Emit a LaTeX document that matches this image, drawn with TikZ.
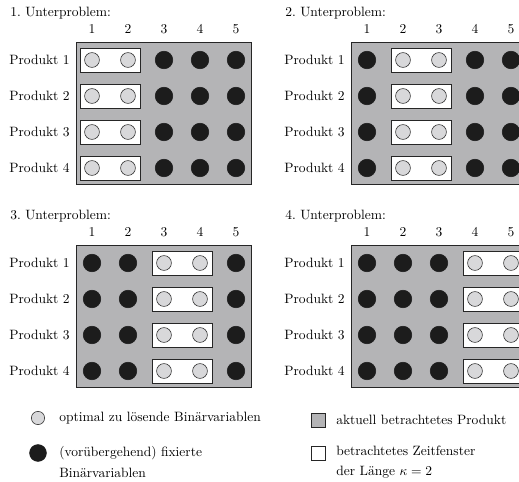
\documentclass[tikz,border=0pt]{standalone}
\definecolor{prodgray}{RGB}{180,180,182}
\definecolor{freefill}{RGB}{216,216,218}
\definecolor{fixfill}{RGB}{28,28,28}
\tikzset{
  prodbox/.style={draw=black!85, line width=0.7pt, fill=prodgray},
  winbox/.style={draw=black!85, line width=0.6pt, fill=white},
  freevar/.style={circle, draw=black!80, line width=0.45pt, fill=freefill, minimum size=11pt, inner sep=0pt},
  fixvar/.style={circle, draw=fixfill, fill=fixfill, minimum size=13pt, inner sep=0pt},
  lbl/.style={inner sep=0pt, font=\normalsize},
}
\begin{document}
\begin{tikzpicture}[x=0.74pt,y=-0.74pt]
\useasboundingbox (0,0) rectangle (519,482);
\clip (0,0) rectangle (519,482);
\foreach \k/\ox/\oy in {1/0/0, 2/275/0, 3/0/203, 4/275/203} {
  \begin{scope}[shift={(\ox,\oy)}]
    \pgfmathtruncatemacro{\kk}{\k+1}
    \node[lbl, anchor=base west] (title\k) at (10,16) {\k.~Unterproblem:};
    \foreach \c in {1,...,5} {
      \node[lbl] (head\k-\c) at ({56+36*\c},29) {\c};
    }
    \path[prodbox] (76,42) rectangle (251,184);
    \foreach \r in {1,...,4} {
      \node[lbl, anchor=east] (prod\k-\r) at (70,{24+36*\r}) {Produkt \r};
      \path[winbox] ({56+36*\k-12},{24+36*\r-12}) rectangle ({56+36*\kk+12},{24+36*\r+12});
      \foreach \c in {1,...,5} {
        \ifnum\c=\k\relax
          \node[freevar] (v\k-\r-\c) at ({56+36*\c},{24+36*\r}) {};
        \else\ifnum\c=\kk\relax
          \node[freevar] (v\k-\r-\c) at ({56+36*\c},{24+36*\r}) {};
        \else
          \node[fixvar] (v\k-\r-\c) at ({56+36*\c},{24+36*\r}) {};
        \fi\fi
      }
    }
  \end{scope}
}
% legend
\node[freevar, minimum size=9.8pt] (legfree) at (38,418) {};
\node[lbl, anchor=west] (legfreetxt) at (59,418) {optimal zu lösende Binärvariablen};
\node[fixvar, minimum size=12.5pt] (legfix) at (38,453) {};
\node[lbl, anchor=west, align=left] (legfixtxt) at (59,462) {(vorübergehend) fixierte\\[3pt]Binärvariablen};
\path[prodbox, line width=0.5pt] (311,413) rectangle (325,427);
\coordinate (legprod) at (318,420);
\node[lbl, anchor=west] (legprodtxt) at (336,420) {aktuell betrachtetes Produkt};
\path[winbox, line width=0.5pt] (311,446) rectangle (325,460);
\coordinate (legwin) at (318,453);
\node[lbl, anchor=west, align=left] (legwintxt) at (336,462) {betrachtetes Zeitfenster\\[3pt]der Länge $\kappa=2$};
\end{tikzpicture}
\end{document}
